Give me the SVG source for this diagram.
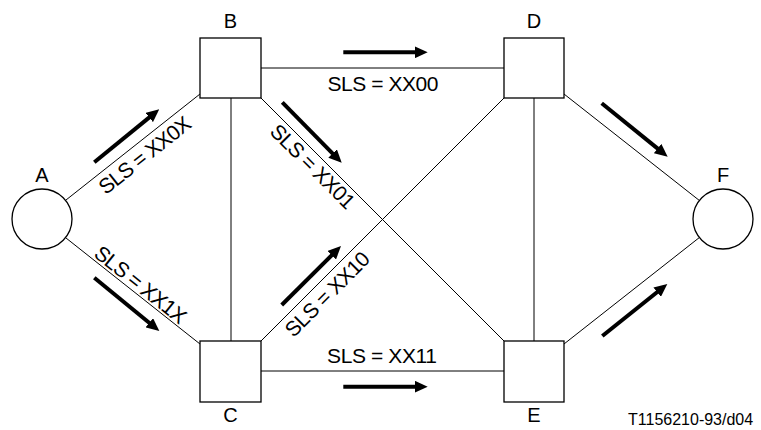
<svg xmlns="http://www.w3.org/2000/svg" width="761" height="430" viewBox="0 0 761 430">
<style>
.node{fill:#fff;stroke:#000;stroke-width:1.3}
.ln{stroke:#000;stroke-width:1;fill:none}
.arr{stroke:#000;stroke-width:4;fill:none;marker-end:url(#ah)}
text{font-family:"Liberation Sans",Arial,sans-serif;fill:#000}
.lbl{font-size:20px;text-anchor:middle}
.sls{font-size:21px;text-anchor:middle}
.ref{font-size:16px}
</style>
<defs>
<marker id="ah" markerUnits="userSpaceOnUse" markerWidth="13" markerHeight="12" refX="3" refY="6" orient="auto" viewBox="0 0 13 12">
<path d="M0,0 L13,6 L0,12 z" fill="#000"/>
</marker>
</defs>
<g id="connectors">
<line class="ln" x1="65.5" y1="200.4" x2="200" y2="94"/>
<line class="ln" x1="65.5" y1="237.6" x2="200" y2="344"/>
<line class="ln" x1="231" y1="98" x2="231" y2="341"/>
<line class="ln" x1="261" y1="68" x2="504" y2="68"/>
<line class="ln" x1="261" y1="371" x2="504" y2="371"/>
<line class="ln" x1="261" y1="98" x2="504" y2="341"/>
<line class="ln" x1="504" y1="98" x2="261" y2="341"/>
<line class="ln" x1="534" y1="98" x2="534" y2="341"/>
<line class="ln" x1="564" y1="94" x2="699.4" y2="200.5"/>
<line class="ln" x1="564" y1="344" x2="699.4" y2="237.5"/>
<line class="arr" x1="94.3" y1="162.3" x2="151.5" y2="115.6"/>
<line class="arr" x1="94.3" y1="277.7" x2="151.6" y2="324.7"/>
<line class="arr" x1="343.3" y1="52.3" x2="417.7" y2="52.3"/>
<line class="arr" x1="282.3" y1="102.3" x2="334.7" y2="155.6"/>
<line class="arr" x1="281.7" y1="305" x2="333.9" y2="253.1"/>
<line class="arr" x1="343.3" y1="386.7" x2="417.7" y2="386.7"/>
<line class="arr" x1="601.7" y1="103.3" x2="659.9" y2="150.4"/>
<line class="arr" x1="602.3" y1="336" x2="659.5" y2="290.3"/>
<text class="sls" transform="translate(136.2,144.4) rotate(-38.4)" y="21" textLength="111" lengthAdjust="spacing">SLS = XX0X</text>
<text class="sls" transform="translate(134.2,292.6) rotate(38.6)" y="-3" textLength="111" lengthAdjust="spacing">SLS = XX1X</text>
<text class="sls" transform="translate(321.1,158.1) rotate(45)" y="19" textLength="110" lengthAdjust="spacing">SLS = XX01</text>
<text class="sls" transform="translate(317.6,284.4) rotate(-45)" y="21" textLength="110" lengthAdjust="spacing">SLS = XX10</text>
<text class="sls" x="383" y="91" textLength="111" lengthAdjust="spacing">SLS = XX00</text>
<text class="sls" x="382" y="363" textLength="110" lengthAdjust="spacing">SLS = XX11</text>
</g>
<g id="A"><circle class="node" cx="42" cy="219" r="30"/><text class="lbl" x="42" y="182">A</text></g>
<g id="B"><rect class="node" x="200" y="38" width="61" height="60"/><text class="lbl" x="230.5" y="28">B</text></g>
<g id="C"><rect class="node" x="200" y="341" width="61" height="61"/><text class="lbl" x="230.5" y="422">C</text></g>
<g id="D"><rect class="node" x="504" y="38" width="60" height="60"/><text class="lbl" x="534" y="28">D</text></g>
<g id="E"><rect class="node" x="504" y="341" width="60" height="61"/><text class="lbl" x="534" y="422">E</text></g>
<g id="F"><circle class="node" cx="723" cy="219" r="30"/><text class="lbl" x="723" y="182">F</text></g>
<text class="ref" x="628" y="425">T1156210-93/d04</text>
</svg>
